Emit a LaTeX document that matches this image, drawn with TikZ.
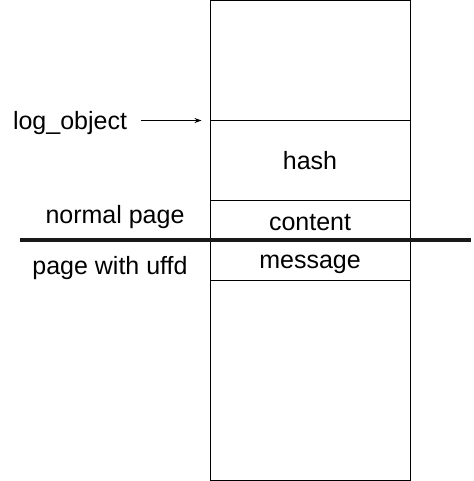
\documentclass[tikz,border=0pt]{standalone}
\usepackage{fontspec}
\setmainfont{Liberation Sans}
\usetikzlibrary{arrows.meta}
\begin{document}
\begin{tikzpicture}[x=1pt,y=-1pt,
  cell/.style={draw=black,line width=1pt,minimum width=200pt,inner sep=0pt,outer sep=0pt},
  lbl/.style={font=\fontsize{25}{29}\selectfont,inner sep=0pt,anchor=base}]
\useasboundingbox (0,0) rectangle (473,481);
\node[cell,minimum height=120pt,anchor=north west] (top) at (210.5,0.5) {};
\node[cell,minimum height=80pt,anchor=north west] (hashc) at (210.5,120.5) {};
\node[cell,minimum height=40pt,anchor=north west] (contentc) at (210.5,200.5) {};
\node[cell,minimum height=40pt,anchor=north west] (messagec) at (210.5,240.5) {};
\node[cell,minimum height=200pt,anchor=north west] (bottom) at (210.5,280.5) {};
\node[lbl] (hash) at (310,169.5) {hash};
\node[lbl] (content) at (310,230) {content};
\node[lbl] (message) at (310,268.5) {message};
\node[lbl] (log) at (70,130) {log\_object};
\node[lbl] (normal) at (115,223.5) {normal page};
\node[lbl] (uffd) at (110,274.5) {page with uffd};
\coordinate (lstart) at (20,240);
\coordinate (lend) at (471,240);
\draw[line width=3.8pt,draw=black!90] (lstart) -- (lend);
\coordinate (astart) at (141,120.5);
\draw[line width=0.9pt,-{Stealth[length=7pt,width=5pt]}] (astart) -- ([xshift=-9pt]hashc.north west);
\end{tikzpicture}
\end{document}
